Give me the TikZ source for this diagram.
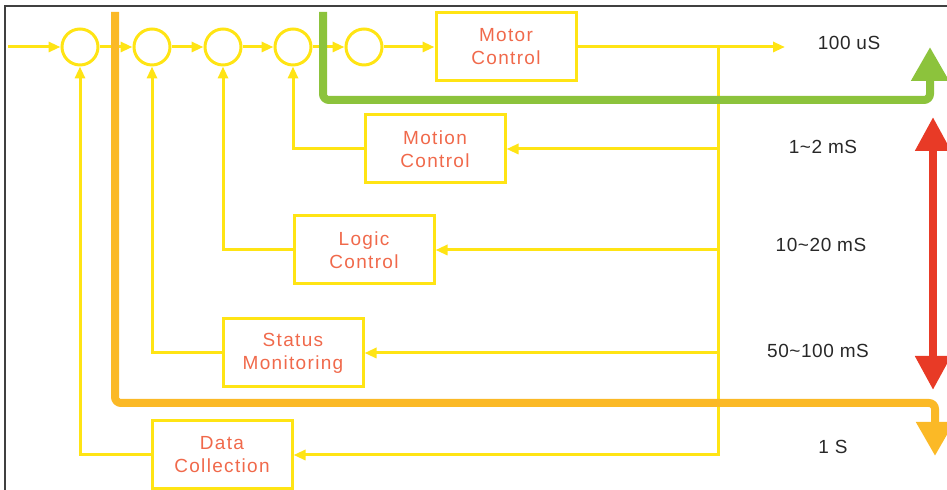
\documentclass[tikz,border=0pt]{standalone}
\usepackage{fontspec}
\setmainfont{Liberation Sans}
\newfontfamily\boxfont[LetterSpace=7]{Liberation Sans}
\newfontfamily\ratefont[LetterSpace=3]{Liberation Sans}
\usetikzlibrary{arrows.meta,positioning}
\definecolor{busyellow}{RGB}{255,228,20}
\definecolor{boxtext}{RGB}{240,105,75}
\definecolor{fastgreen}{RGB}{140,195,60}
\definecolor{midred}{RGB}{232,58,38}
\definecolor{slowamber}{RGB}{251,185,38}
\definecolor{timegray}{RGB}{40,40,40}

\begin{document}
\begin{tikzpicture}[x=0.5pt,y=-0.5pt,
    line width=1.5pt,
    sum/.style={draw=busyellow, circle, minimum size=18pt, inner sep=0pt},
    task/.style={draw=busyellow, minimum width=70pt, minimum height=34pt,
                 align=center, text=boxtext, font=\boxfont\fontsize{9.5}{11.5}\selectfont},
    flow/.style={busyellow, -{Triangle[length=6pt,width=5pt]}},
    rate/.style={text=timegray, font=\ratefont\fontsize{9.5}{11}\selectfont},
    band/.style={line width=4pt, rounded corners=3pt}]
  \useasboundingbox (0,0) rectangle (947,490);
  % Frame
  \draw[line width=0.8pt, black!75] (5,490) -- (5,6) -- (947,6);
  % Summing points
  \coordinate (in) at (8,47);
  \node[sum] (s1) at (80,47) {};
  \node[sum] (s2) at (152,47) {};
  \node[sum] (s3) at (223,47) {};
  \node[sum] (s4) at (293,47) {};
  \node[sum] (s5) at (364,47) {};
  % Tasks
  \node[task] (motor) at (506,47) {Motor\\Control};
  \node[task] (motion) at (435,149) {Motion\\Control};
  \node[task] (logic) at (364,250) {Logic\\Control};
  \node[task] (status) at (293,353) {Status\\Monitoring};
  \node[task] (data) at (222,455) {Data\\Collection};
  % Forward path
  \draw[flow] (in) -- (s1);
  \draw[flow] (s1) -- (s2);
  \draw[flow] (s2) -- (s3);
  \draw[flow] (s3) -- (s4);
  \draw[flow] (s4) -- (s5);
  \draw[flow] (s5) -- (motor);
  \coordinate (out) at (785,47);
  \coordinate (bustop) at (718,47);
  \draw[flow] (motor) -- (out);
  % Feedback bus
  \draw[flow] (bustop) |- (data);
  \draw[flow] (bustop |- motion) -- (motion);
  \draw[flow] (bustop |- logic) -- (logic);
  \draw[flow] (bustop |- status) -- (status);
  \draw[flow] (motion) -| (s4);
  \draw[flow] (logic) -| (s3);
  \draw[flow] (status) -| (s2);
  \draw[flow] (data) -| (s1);
  % Rate bands
  \draw[band, fastgreen, -{Triangle[length=17pt,width=18pt]}]
    (323,12) |- (930,100) -- (930,47);
  \draw[band, slowamber, -{Triangle[length=17pt,width=18pt]}]
    (115,12) |- (935,403) -- (935,456);
  \draw[line width=4pt, midred, {Triangle[length=17pt,width=17pt]}-{Triangle[length=17pt,width=17pt]}]
    (933,117) -- (933,390);
  % Periods
  \node[rate] (t1) at (849,43) {100 uS};
  \node[rate] (t2) at (823,147) {1\textasciitilde 2 mS};
  \node[rate] (t3) at (821,245) {10\textasciitilde 20 mS};
  \node[rate] (t4) at (818,351) {50\textasciitilde 100 mS};
  \node[rate] (t5) at (833,447) {1 S};
\end{tikzpicture}
\end{document}
